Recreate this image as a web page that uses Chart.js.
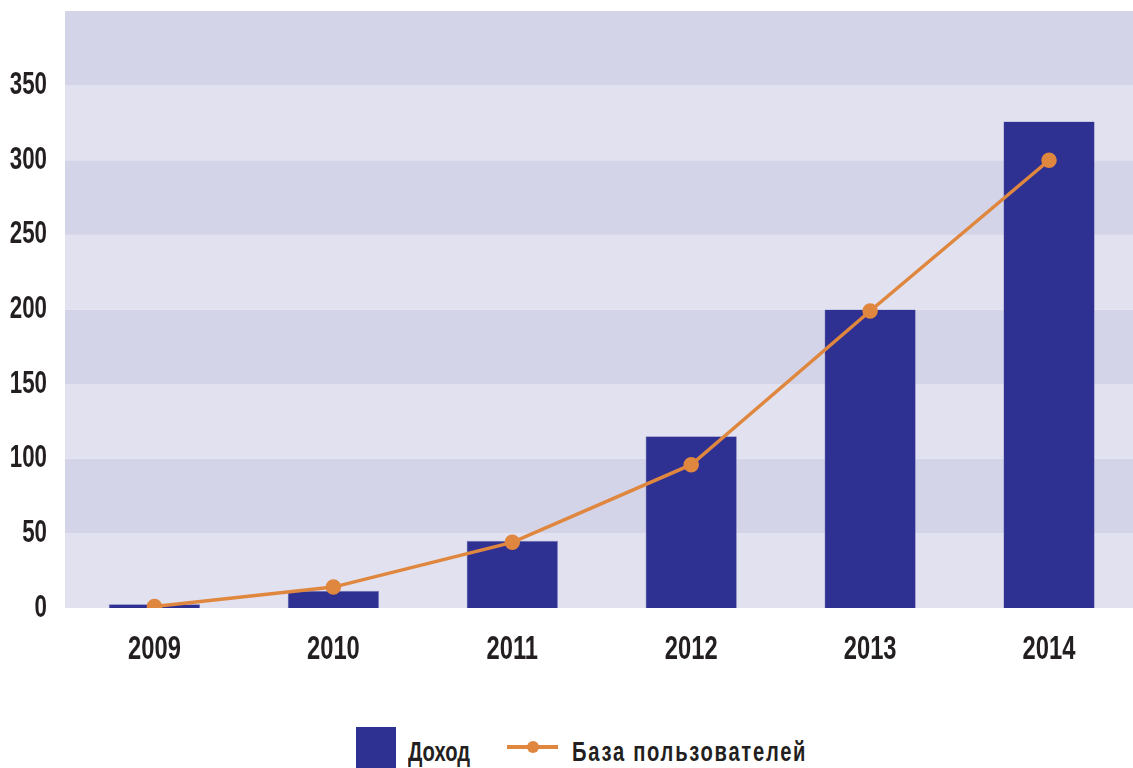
<!DOCTYPE html>
<html lang="ru">
<head>
<meta charset="utf-8">
<title>Доход и база пользователей</title>
<script src="https://cdn.jsdelivr.net/npm/chart.js@4.4.1/dist/chart.umd.min.js"></script>
<style>
    html, body { margin: 0; padding: 0; background: #fff; overflow: hidden; }
    body { width: 1133px; height: 768px; position: relative; }
    #wrap { position: absolute; left: 0; top: 0; width: 1148px; height: 690px; }
    .legend { position: absolute; top: 727px; left: 0; width: 1133px; height: 60px;
        font-family: "Liberation Sans", Arial, sans-serif;
        font-weight: bold; font-size: 28px; color: #231f20; }
    .legend .box { position: absolute; left: 356px; top: 0; width: 40px; height: 50px; background: #2e3192; }
    .legend .txt { position: absolute; top: 9px; transform: scaleX(0.72); transform-origin: 0 0; white-space: nowrap; }
    .legend .ln { position: absolute; left: 507px; top: 18px; width: 51px; height: 4px; background: #e0873f; }
    .legend .dot { position: absolute; left: 527px; top: 14px; width: 12px; height: 12px; border-radius: 50%; background: #e0873f; }
</style>
</head>
<body>
<div id="wrap"><canvas id="chart"></canvas></div>
<div class="legend">
    <div class="box"></div>
    <div class="txt" style="left:408px">Доход</div>
    <div class="ln"></div><div class="dot"></div>
    <div class="txt" style="left:572px; letter-spacing:2.4px">База пользователей</div>
</div>
<script>
// данные
const years = ['2009', '2010', '2011', '2012', '2013', '2014'];
const revenue = [2.5, 11.5, 45, 115, 200, 326];
const users = [1, 14, 44, 96, 199, 300];

const Y_FONT = 'bold 31px "Liberation Sans", Arial, sans-serif';
const X_FONT = 'bold 33px "Liberation Sans", Arial, sans-serif';
const SQUEEZE = 0.72; // узкий шрифт: сжимаем по горизонтали

// чередующиеся полосы фона по шагу оси Y
const bandsPlugin = {
    id: 'bands',
    beforeDatasetsDraw(chart) {
        const { ctx, chartArea: a, scales: { y } } = chart;
        ctx.save();
        for (let v = 0; v < y.max; v += 50) {
            const top = y.getPixelForValue(v + 50);
            const bottom = y.getPixelForValue(v);
            ctx.fillStyle = (v / 50) % 2 === 0 ? '#e1e1ef' : '#d4d4e8';
            ctx.fillRect(a.left, top, a.right - a.left, bottom - top);
        }
        ctx.restore();
    }
};

// подписи осей узким шрифтом
function narrowText(ctx, text, x, y, align) {
    ctx.save();
    ctx.translate(x, y);
    ctx.scale(SQUEEZE, 1);
    ctx.textAlign = align;
    ctx.fillText(text, 0, 0);
    ctx.restore();
}

const labelsPlugin = {
    id: 'narrowLabels',
    afterDraw(chart) {
        const { ctx, chartArea: a, scales: { x, y } } = chart;
        ctx.save();
        ctx.fillStyle = '#231f20';
        ctx.textBaseline = 'middle';
        ctx.font = Y_FONT;
        y.ticks.forEach((t, i) => {
            if (t.value >= y.max) return;
            narrowText(ctx, String(t.value), a.left - 18, y.getPixelForTick(i), 'right');
        });
        ctx.font = X_FONT;
        x.ticks.forEach((t, i) => {
            narrowText(ctx, years[i], x.getPixelForTick(i), a.bottom + 42, 'center');
        });
        ctx.restore();
    }
};

new Chart(document.getElementById('chart'), {
    data: {
        labels: years,
        datasets: [
            {
                type: 'line',
                label: 'База пользователей',
                data: users,
                borderColor: '#e0873f',
                backgroundColor: '#e0873f',
                borderWidth: 3.5,
                pointRadius: 6,
                pointHoverRadius: 6,
                tension: 0,
                order: 0
            },
            {
                type: 'bar',
                label: 'Доход',
                data: revenue,
                backgroundColor: '#2e3192',
                borderColor: '#7c7fc0',
                borderWidth: 0.6,
                barPercentage: 0.51,
                categoryPercentage: 1,
                order: 1
            }
        ]
    },
    options: {
        responsive: true,
        maintainAspectRatio: false,
        animation: false,
        layout: { padding: { top: 11, right: 0, left: 0, bottom: 0 } },
        plugins: { legend: { display: false }, tooltip: { enabled: false } },
        scales: {
            x: {
                grid: { display: false, drawTicks: false },
                border: { display: false },
                ticks: { display: false },
                afterFit(s) { s.height = 82; }
            },
            y: {
                min: 0,
                max: 400,
                grid: { display: false, drawTicks: false },
                border: { display: false },
                ticks: { display: false, stepSize: 50 },
                afterFit(s) { s.width = 65; }
            }
        }
    },
    plugins: [bandsPlugin, labelsPlugin]
});
</script>
</body>
</html>
